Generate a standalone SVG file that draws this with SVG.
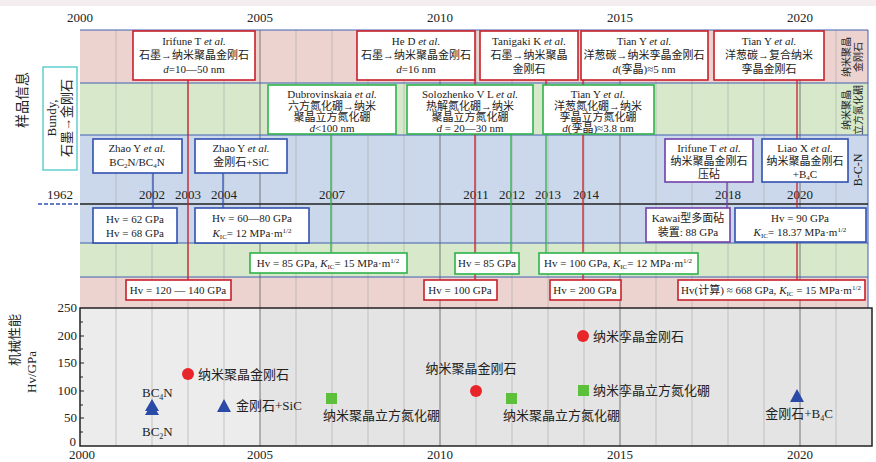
<svg xmlns="http://www.w3.org/2000/svg" width="876" height="462" viewBox="0 0 876 462">
<style>
text{font-family:"Liberation Serif","Noto Sans CJK SC",serif;font-size:11px;fill:#222}
.c{text-anchor:middle}
.yr{font-size:13px}
.bx{fill:#fff;stroke-width:1.6}
.r{stroke:#c8202a}.g{stroke:#2fb24a}.b{stroke:#3050b0}.p{stroke:#7040a8}
.ln{stroke-width:1.3;fill:none}
.grid{stroke:#aaa;stroke-width:0.6}
</style>
<rect width="876" height="462" fill="#f4eef0"/>
<rect x="0" y="6" width="876" height="456" fill="#fff"/>
<rect x="80" y="30" width="788" height="53" fill="#edd3cf"/>
<rect x="80" y="83" width="788" height="52" fill="#d7e8cb"/>
<rect x="80" y="135" width="788" height="108" fill="#cbd7ea"/>
<rect x="80" y="243" width="788" height="34" fill="#d7e8cb"/>
<rect x="80" y="277" width="788" height="31" fill="#edd3cf"/>
<rect x="80" y="308" width="792" height="138" fill="#e4e4e4"/>
<rect x="80" y="308" width="180" height="138" fill="#ececec"/>
<g id="grid">
<path class="grid" d="M116 30V446M152 30V446M188 30V446M224 30V446M296 30V446M332 30V446M368 30V446M404 30V446M476 30V446M512 30V446M548 30V446M584 30V446M656 30V446M692 30V446M728 30V446M764 30V446M836 30V446"/>
<path stroke="#777" stroke-width="1" d="M260 30V446M440 30V446M620 30V446M800 30V446"/>
<path stroke="#4060b0" stroke-width="1" fill="none" d="M80 30H868V308M80 83H868M80 135H868M80 243H868M80 277H868"/>
<path stroke="#222" stroke-width="1.5" d="M80 204H868"/>
<path stroke="#3050b0" stroke-width="1.3" stroke-dasharray="4,2" d="M38 204H80"/>
<rect x="80" y="308" width="792" height="138" fill="none" stroke="#222" stroke-width="1.5"/>
<path stroke="#222" d="M80 336H84M80 363H84M80 391H84M80 418H84M80 322H83M80 349H83M80 377H83M80 405H83M80 432H83"/>
</g>
<g id="axes">
<text class="c yr" x="80" y="22">2000</text><text class="c yr" x="260" y="22">2005</text><text class="c yr" x="440" y="22">2010</text><text class="c yr" x="620" y="22">2015</text><text class="c yr" x="800" y="22">2020</text>
<text class="c yr" x="82" y="459">2000</text><text class="c yr" x="260" y="459">2005</text><text class="c yr" x="440" y="459">2010</text><text class="c yr" x="620" y="459">2015</text><text class="c yr" x="800" y="459">2020</text>
<g text-anchor="end"><text x="77" y="312" class="yr">250</text><text x="77" y="340" class="yr">200</text><text x="77" y="367" class="yr">150</text><text x="77" y="395" class="yr">100</text><text x="77" y="422" class="yr">50</text><text x="76" y="446" class="yr">0</text></g>
<text class="c yr" x="60" y="199">1962</text>
<text class="c yr" x="152" y="199">2002</text><text class="c yr" x="188" y="199">2003</text><text class="c yr" x="224" y="199">2004</text><text class="c yr" x="332" y="199">2007</text><text class="c yr" x="476" y="199">2011</text><text class="c yr" x="512" y="199">2012</text><text class="c yr" x="548" y="199">2013</text><text class="c yr" x="586" y="199">2014</text><text class="c yr" x="728" y="199">2018</text><text class="c yr" x="800" y="199">2020</text>
<text class="c" transform="translate(27 100) rotate(-90)" style="font-size:14px">样品信息</text>
<text class="c" transform="translate(19 340) rotate(-90)" style="font-size:13px">机械性能</text>
<text class="c" transform="translate(36 372) rotate(-90)" style="font-size:13px">Hv/GPa</text>
<text class="c" transform="translate(850 57) rotate(-90)" style="font-size:10px">纳米聚晶</text>
<text class="c" transform="translate(862 57) rotate(-90)" style="font-size:10px">金刚石</text>
<text class="c" transform="translate(850 110) rotate(-90)" style="font-size:10px">纳米聚晶</text>
<text class="c" transform="translate(862 110) rotate(-90)" style="font-size:10px">立方氮化硼</text>
<text class="c" transform="translate(862 170) rotate(-90)" style="font-size:12px">B-C-N</text>
</g>
<g id="bundy"><rect x="43" y="67" width="34" height="103" fill="#fff" stroke="#48c8c8" stroke-width="1.3"/>
<text class="c" transform="translate(56 118) rotate(-90)" style="font-size:13px">Bundy,</text>
<text class="c" transform="translate(71 118) rotate(-90)" style="font-size:13px">石墨→金刚石</text></g>
<g id="connectors">
<path class="r ln" d="M188 80V280M475 80V280M583 80V280M797 80V280"/>
<path class="r ln" d="M546 80V85"/>
<path class="g ln" d="M331 134V253M511 134V253M546 134V253"/>
<path class="b ln" d="M153 173V208M223 173V208"/>
<path class="p ln" d="M727 182V208"/>
</g>
<g id="n1"><rect class="bx r" x="133" y="31" width="122" height="49"/><text class="c" x="194" y="45">Irifune T <tspan font-style="italic">et al.</tspan></text><text class="c" x="194" y="59">石墨→纳米聚晶金刚石</text><text class="c" x="194" y="73"><tspan font-style="italic">d</tspan>=10—50 nm</text></g>
<g id="n2"><rect class="bx r" x="357" y="31" width="118" height="49"/><text class="c" x="416" y="45">He D <tspan font-style="italic">et al.</tspan></text><text class="c" x="416" y="59">石墨→纳米聚晶金刚石</text><text class="c" x="416" y="73"><tspan font-style="italic">d</tspan>=16 nm</text></g>
<g id="n3"><rect class="bx r" x="480" y="31" width="98" height="49"/><text class="c" x="529" y="45">Tanigaki K <tspan font-style="italic">et al.</tspan></text><text class="c" x="529" y="59">石墨→纳米聚晶</text><text class="c" x="529" y="73">金刚石</text></g>
<g id="n4"><rect class="bx r" x="581" y="31" width="127" height="49"/><text class="c" x="644" y="45">Tian Y <tspan font-style="italic">et al.</tspan></text><text class="c" x="644" y="59">洋葱碳→纳米孪晶金刚石</text><text class="c" x="644" y="73"><tspan font-style="italic">d</tspan>(孪晶)≈5 nm</text></g>
<g id="n5"><rect class="bx r" x="714" y="31" width="110" height="49"/><text class="c" x="769" y="45">Tian Y <tspan font-style="italic">et al.</tspan></text><text class="c" x="769" y="59">洋葱碳→复合纳米</text><text class="c" x="769" y="73">孪晶金刚石</text></g>
<g id="n6"><rect class="bx g" x="268" y="85" width="128" height="49"/><text class="c" x="332" y="98">Dubrovinskaia <tspan font-style="italic">et al.</tspan></text><text class="c" x="332" y="110">六方氮化硼→纳米</text><text class="c" x="332" y="121">聚晶立方氮化硼</text><text class="c" x="332" y="132"><tspan font-style="italic">d</tspan>&lt;100 nm</text></g>
<g id="n7"><rect class="bx g" x="407" y="85" width="126" height="49"/><text class="c" x="470" y="98">Solozhenko V L <tspan font-style="italic">et al.</tspan></text><text class="c" x="470" y="110">热解氮化硼→纳米</text><text class="c" x="470" y="121">聚晶立方氮化硼</text><text class="c" x="470" y="132"><tspan font-style="italic">d</tspan> = 20—30 nm</text></g>
<g id="n8"><rect class="bx g" x="543" y="85" width="111" height="49"/><text class="c" x="598" y="98">Tian Y <tspan font-style="italic">et al.</tspan></text><text class="c" x="598" y="110">洋葱氮化硼→纳米</text><text class="c" x="598" y="121">孪晶立方氮化硼</text><text class="c" x="598" y="132"><tspan font-style="italic">d</tspan>(孪晶)≈3.8 nm</text></g>
<g id="n9"><rect class="bx b" x="93" y="139" width="89" height="34"/><text class="c" x="137" y="152">Zhao Y <tspan font-style="italic">et al.</tspan></text><text class="c" x="137" y="166">BC<tspan font-size="7" dy="2">2</tspan><tspan dy="-2">N/BC</tspan><tspan font-size="7" dy="2">4</tspan><tspan dy="-2">N</tspan></text></g>
<g id="n10"><rect class="bx b" x="195" y="139" width="92" height="34"/><text class="c" x="241" y="152">Zhao Y <tspan font-style="italic">et al.</tspan></text><text class="c" x="241" y="166">金刚石+SiC</text></g>
<g id="n11"><rect class="bx p" x="665" y="139" width="88" height="43"/><text class="c" x="709" y="152">Irifune T <tspan font-style="italic">et al.</tspan></text><text class="c" x="709" y="165">纳米聚晶金刚石</text><text class="c" x="709" y="178">压砧</text></g>
<g id="n12"><rect class="bx b" x="762" y="139" width="86" height="43"/><text class="c" x="805" y="152">Liao X <tspan font-style="italic">et al.</tspan></text><text class="c" x="805" y="165">纳米聚晶金刚石</text><text class="c" x="805" y="178">+B<tspan font-size="7" dy="2">4</tspan><tspan dy="-2">C</tspan></text></g>
<g id="v1"><rect class="bx b" x="93" y="208" width="84" height="35"/><text class="c" x="135" y="223">Hv = 62 GPa</text><text class="c" x="135" y="237">Hv = 68 GPa</text></g>
<g id="v2"><rect class="bx b" x="195" y="208" width="114" height="35"/><text class="c" x="252" y="222">Hv = 60—80 GPa</text><text class="c" x="252" y="237"><tspan font-style="italic">K</tspan><tspan font-size="7" dy="2">IC</tspan><tspan dy="-2">= 12 MPa·m</tspan><tspan font-size="7" dy="-4">1/2</tspan></text></g>
<g id="v3"><rect class="bx p" x="646" y="208" width="84" height="34"/><text class="c" x="688" y="222">Kawai型多面砧</text><text class="c" x="688" y="236">装置: 88 GPa</text></g>
<g id="v4"><rect class="bx b" x="735" y="208" width="131" height="34"/><text class="c" x="800" y="222">Hv = 90 GPa</text><text class="c" x="800" y="236"><tspan font-style="italic">K</tspan><tspan font-size="7" dy="2">IC</tspan><tspan dy="-2">= 18.37 MPa·m</tspan><tspan font-size="7" dy="-4">1/2</tspan></text></g>
<g id="v5"><rect class="bx g" x="250" y="253" width="157" height="20"/><text class="c" x="328" y="267">Hv = 85 GPa, <tspan font-style="italic">K</tspan><tspan font-size="7" dy="2">IC</tspan><tspan dy="-2">= 15 MPa·m</tspan><tspan font-size="7" dy="-4">1/2</tspan></text></g>
<g id="v6"><rect class="bx g" x="455" y="253" width="64" height="21"/><text class="c" x="487" y="267">Hv = 85 GPa</text></g>
<g id="v7"><rect class="bx g" x="539" y="253" width="159" height="21"/><text class="c" x="618" y="267">Hv = 100 GPa, <tspan font-style="italic">K</tspan><tspan font-size="7" dy="2">IC</tspan><tspan dy="-2">= 12 MPa·m</tspan><tspan font-size="7" dy="-4">1/2</tspan></text></g>
<g id="v8"><rect class="bx r" x="126" y="280" width="105" height="20"/><text class="c" x="178" y="294">Hv = 120 — 140 GPa</text></g>
<g id="v9"><rect class="bx r" x="424" y="280" width="73" height="20"/><text class="c" x="460" y="294">Hv = 100 GPa</text></g>
<g id="v10"><rect class="bx r" x="550" y="280" width="71" height="20"/><text class="c" x="585" y="294">Hv = 200 GPa</text></g>
<g id="v11"><rect class="bx r" x="678" y="280" width="187" height="20"/><text class="c" x="771" y="294">Hv(计算) ≈ 668 GPa, <tspan font-style="italic">K</tspan><tspan font-size="7" dy="2">IC</tspan><tspan dy="-2"> = 15 MPa·m</tspan><tspan font-size="7" dy="-4">1/2</tspan></text></g>
<g id="points">
<path fill="#2a4aa8" d="M152 399l7 12h-14zM152 403l7 12h-14zM224 399l7 13h-14zM797 389l7 13h-14z"/>
<circle cx="188" cy="374" r="6" fill="#e8262a"/><circle cx="476" cy="391" r="6" fill="#e8262a"/><circle cx="583" cy="336" r="6" fill="#e8262a"/>
<rect x="326" y="393" width="11" height="11" fill="#5cc03a"/><rect x="506" y="393" width="11" height="11" fill="#5cc03a"/><rect x="578" y="385" width="11" height="11" fill="#5cc03a"/>
<text x="142" y="397" style="font-size:13px">BC<tspan font-size="8" dy="3">4</tspan><tspan dy="-3">N</tspan></text>
<text x="142" y="436" style="font-size:13px">BC<tspan font-size="8" dy="3">2</tspan><tspan dy="-3">N</tspan></text>
<text x="198" y="379" style="font-size:13px">纳米聚晶金刚石</text>
<text x="236" y="410" style="font-size:13px">金刚石+SiC</text>
<text x="323" y="420" style="font-size:13px">纳米聚晶立方氮化硼</text>
<text class="c" x="471" y="373" style="font-size:13px">纳米聚晶金刚石</text>
<text x="503" y="420" style="font-size:13px">纳米聚晶立方氮化硼</text>
<text x="593" y="341" style="font-size:13px">纳米孪晶金刚石</text>
<text x="593" y="395" style="font-size:13px">纳米孪晶立方氮化硼</text>
<text class="c" x="799" y="418" style="font-size:13px">金刚石+B<tspan font-size="8" dy="3">4</tspan><tspan dy="-3">C</tspan></text>
</g>
</svg>
